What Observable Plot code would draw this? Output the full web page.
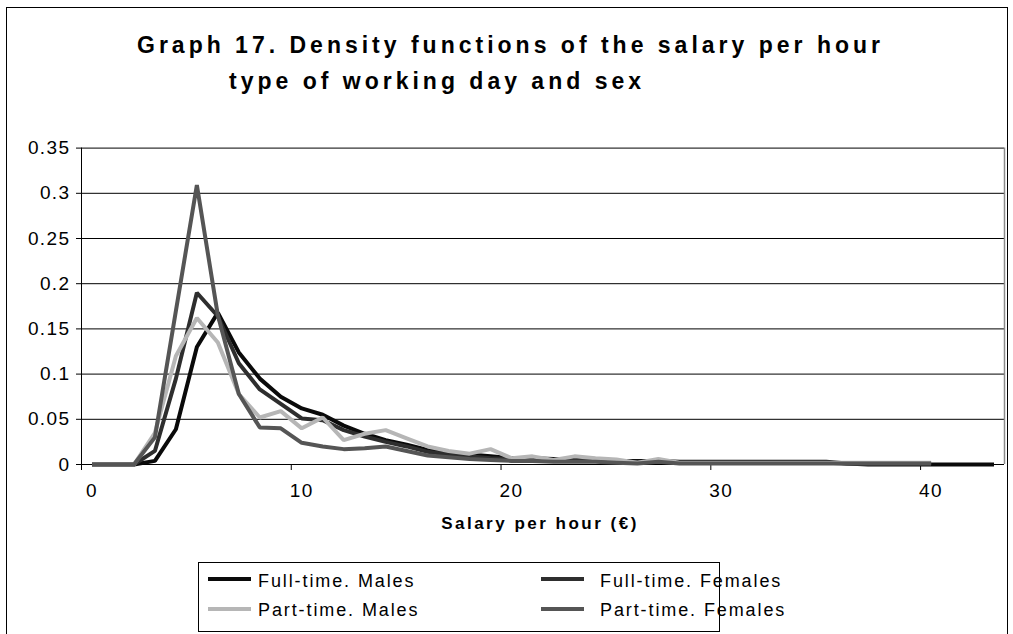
<!DOCTYPE html>
<html><head><meta charset="utf-8">
<script src="https://cdn.jsdelivr.net/npm/d3@7"></script>
<script src="https://cdn.jsdelivr.net/npm/@observablehq/plot@0.6"></script>
<style>
body{margin:0;background:#fff;font-family:"Liberation Sans",Arial,sans-serif;color:#000;}
#wrap{position:relative;width:1013px;height:634px;overflow:hidden;background:#fff;}
#border{position:absolute;left:6px;top:7px;width:1002px;height:720px;border:1px solid #000;box-sizing:border-box;}
#chart{position:absolute;left:0;top:0;}
.t{position:absolute;white-space:nowrap;font-weight:bold;font-size:23px;line-height:23px;letter-spacing:4px;}
#xtitle{position:absolute;white-space:nowrap;font-weight:bold;font-size:17px;line-height:17px;letter-spacing:2.5px;left:0;width:1080px;text-align:center;top:514.6px;}
#legend{position:absolute;left:198px;top:562px;width:522px;height:70px;border:1px solid #000;box-sizing:border-box;}
.li{position:absolute;font-size:18px;line-height:18px;letter-spacing:1.9px;white-space:nowrap;}
.ls{position:absolute;height:4px;}
</style>
</head><body>
<div id="wrap">
  <div id="border"></div>
  <div id="chart"></div>
  <div class="t" style="left:137px;top:33.5px;">Graph 17. Density functions of the salary per hour</div>
  <div class="t" style="left:229px;top:69.5px;">type of working day and sex</div>
  <div id="xtitle">Salary per hour (€)</div>
  <div id="legend"></div>
</div>
<script>
// Categories: salary per hour (€), one per integer
const salary = d3.range(0, 44);
const seriesNames = ["Full-time. Males", "Full-time. Females", "Part-time. Males", "Part-time. Females"];
const seriesColors = ["#0a0a0a", "#2e2e2e", "#b6b6b6", "#555555"];
const xTickLabels = [0, 10, 20, 30, 40];
const yTickValues = [0, 0.05, 0.1, 0.15, 0.2, 0.25, 0.3, 0.35];

const fullTimeMales = [0, 0, 0, 0.004, 0.039, 0.13, 0.168, 0.124, 0.095, 0.075, 0.062, 0.055, 0.043, 0.034, 0.027, 0.022, 0.016, 0.013, 0.011, 0.009, 0.007, 0.007, 0.006, 0.005, 0.005, 0.004, 0.004, 0.004, 0.003, 0.003, 0.003, 0.003, 0.003, 0.003, 0.003, 0.003, 0.001, 0, 0, 0, 0, 0, 0, 0];
const fullTimeFemales = [0, 0, 0, 0.015, 0.095, 0.19, 0.164, 0.112, 0.083, 0.067, 0.051, 0.049, 0.038, 0.031, 0.025, 0.02, 0.014, 0.011, 0.009, 0.007, 0.006, 0.005, 0.005, 0.004, 0.004, 0.003, 0.003, 0.003, 0.002, 0.002, 0.002, 0.002, 0.002, 0.002, 0.002, 0.002, 0.001, 0.001, 0.001, 0.001, 0.001];
const partTimeMales = [0, 0, 0, 0.035, 0.12, 0.162, 0.135, 0.078, 0.052, 0.059, 0.04, 0.052, 0.027, 0.034, 0.038, 0.029, 0.02, 0.015, 0.012, 0.017, 0.007, 0.009, 0.005, 0.009, 0.007, 0.0055, 0.002, 0.006, 0.002, 0.002, 0.002, 0.002, 0.002, 0.002, 0.002, 0.002, 0.002, 0.002, 0.002, 0.002, 0.002];
const partTimeFemales = [0, 0, 0, 0.03, 0.17, 0.309, 0.165, 0.078, 0.041, 0.04, 0.024, 0.02, 0.017, 0.018, 0.02, 0.015, 0.01, 0.008, 0.006, 0.005, 0.004, 0.004, 0.003, 0.003, 0.003, 0.002, 0.001, 0.003, 0.001, 0.001, 0.001, 0.001, 0.001, 0.001, 0.001, 0.001, 0.001, 0.001, 0.001, 0.001, 0.001];

const seriesValues = [fullTimeMales, fullTimeFemales, partTimeMales, partTimeFemales];
const rows = [];
seriesValues.forEach((vals, k) => vals.forEach((v, i) => rows.push({x: salary[i], v, s: seriesNames[k]})));

// category boundaries for tick marks (Excel category axis)
const xTickMarks = [-0.5, ...xTickLabels.slice(1).map(d => d - 0.5)];

const chart = Plot.plot({
  width: 1013,
  height: 634,
  marginLeft: 81,
  marginRight: 9,
  marginTop: 147.6,
  marginBottom: 170,
  style: {fontFamily: '"Liberation Sans", Arial, sans-serif', fontSize: "19px", letterSpacing: "1.4px", color: "#000", background: "transparent", overflow: "visible"},
  x: {domain: [-0.5, 43.5], axis: null},
  y: {domain: [0, 0.35], axis: null},
  color: {type: "ordinal", domain: seriesNames, range: seriesColors},
  marks: [
    Plot.ruleY(yTickValues.slice(1), {stroke: "#000", strokeWidth: 1}),
    Plot.ruleX([43.5], {stroke: "#8a8a8a", strokeWidth: 1.5}),
    Plot.ruleX([-0.5], {stroke: "#000", strokeWidth: 1}),
    Plot.ruleY([0], {stroke: "#000", strokeWidth: 1}),
    Plot.axisY(yTickValues, {tickSize: 5, tickPadding: 6, tickFormat: d => String(d), label: null, stroke: "#000"}),
    Plot.axisX(xTickMarks, {tickSize: 6, tickFormat: () => "", label: null, stroke: "#000"}),
    Plot.axisX(xTickLabels, {tickSize: 0, tickPadding: 19, label: null}),
    Plot.line(rows, {x: "x", y: "v", z: "s", stroke: "s", strokeWidth: 4, strokeLinejoin: "miter", strokeLinecap: "butt"})
  ]
});
document.getElementById("chart").appendChild(chart);

// legend
const legend = document.getElementById("legend");
const pos = [
  {lx: 9, tx: 59, y: 16.3},
  {lx: 342, tx: 401, y: 16.3},
  {lx: 9, tx: 59, y: 45.7},
  {lx: 342, tx: 401, y: 45.7}
];
seriesNames.forEach((name, i) => {
  const p = pos[i];
  const s = document.createElement("div");
  s.className = "ls";
  s.style.left = p.lx + "px";
  s.style.width = "43px";
  s.style.top = (p.y - 2) + "px";
  s.style.background = seriesColors[i];
  legend.appendChild(s);
  const t = document.createElement("div");
  t.className = "li";
  t.textContent = name;
  t.style.left = p.tx + "px";
  t.style.top = (p.y + 7.7 - 15.24) + "px";
  legend.appendChild(t);
});
</script>
</body></html>
